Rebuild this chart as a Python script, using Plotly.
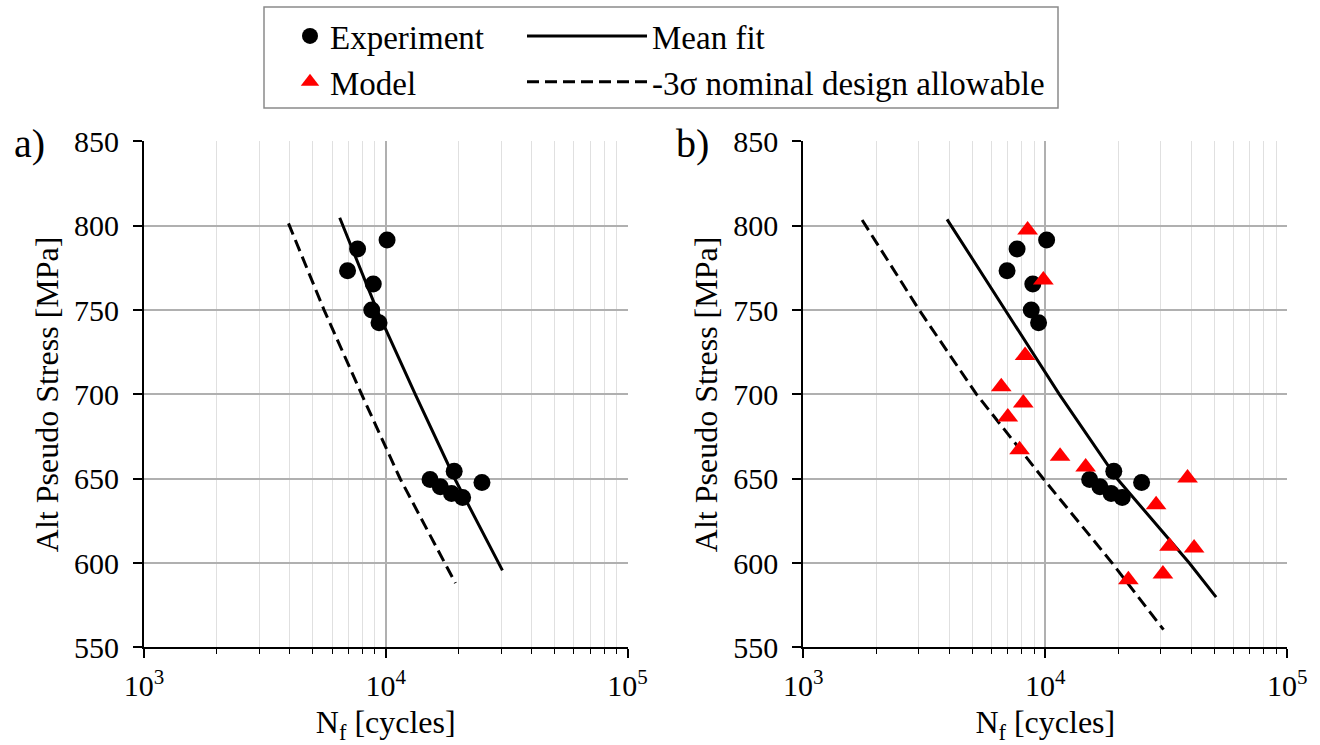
import plotly.graph_objects as go

# ---------------- data ----------------
exp_N = [7646, 10125, 6950, 8880, 8750, 9380, 15250, 19190, 16820, 18710, 20790, 25000]
exp_S = [786.2, 791.5, 773.3, 765.4, 750.0, 742.5, 649.6, 654.5, 645.2, 641.3, 638.9, 647.8]

model_N = [8450, 9816, 8250, 6576, 8110, 7000, 7830, 11510, 14680, 38700, 28700, 32600, 41200, 30620, 22040]
model_S = [797.4, 767.8, 723.0, 704.6, 694.9, 686.6, 667.2, 663.3, 657.0, 650.4, 634.6, 610.0, 608.9, 593.5, 590.1]

mean_a_N = [6450, 9200, 13250, 19300, 30380]
mean_a_S = [804.7, 750.0, 700.0, 650.0, 595.7]
allow_a_N = [3960, 5560, 7950, 11470, 19420]
allow_a_S = [801.4, 750.0, 700.0, 650.0, 588.1]

mean_b_N = [3927, 6845, 11430, 19820, 39360, 50800]
mean_b_S = [803.8, 750.0, 700.0, 650.0, 600.0, 579.8]
allow_b_N = [1750, 3013, 5200, 9810, 18900, 30790]
allow_b_S = [803.4, 750.0, 700.0, 650.0, 600.0, 560.5]

x_tickvals = [1e3, 1e4, 1e5]
x_ticktext = ["10<sup>3</sup>", "10<sup>4</sup>", "10<sup>5</sup>"]
x_minorvals = [2e3, 3e3, 4e3, 5e3, 6e3, 7e3, 8e3, 9e3, 2e4, 3e4, 4e4, 5e4, 6e4, 7e4, 8e4, 9e4]
y_tickvals = [550, 600, 650, 700, 750, 800, 850]

FONT = "Liberation Serif"
W, H = 1320, 745

fig = go.Figure()

def add_panel(xa, ya, with_model, mean_N, mean_S, allow_N, allow_S, show):
    fig.add_trace(go.Scatter(x=mean_N, y=mean_S, mode="lines", name="Mean fit",
                             line=dict(color="black", width=3), xaxis=xa, yaxis=ya,
                             legend="legend2", showlegend=show))
    fig.add_trace(go.Scatter(x=allow_N, y=allow_S, mode="lines",
                             name="-3σ nominal design allowable",
                             line=dict(color="black", width=3, dash="12px,6px"),
                             xaxis=xa, yaxis=ya, legend="legend2", showlegend=show))
    fig.add_trace(go.Scatter(x=exp_N, y=exp_S, mode="markers", name="Experiment",
                             marker=dict(symbol="circle", size=17, color="black"),
                             xaxis=xa, yaxis=ya, legend="legend", showlegend=show))
    if with_model:
        fig.add_trace(go.Scatter(x=model_N, y=model_S, mode="markers", name="Model",
                                 marker=dict(symbol="triangle-up", size=18, color="red"),
                                 xaxis=xa, yaxis=ya, legend="legend", showlegend=True))

add_panel("x", "y", False, mean_a_N, mean_a_S, allow_a_N, allow_a_S, True)
add_panel("x2", "y2", True, mean_b_N, mean_b_S, allow_b_N, allow_b_S, False)

xax = dict(type="log", range=[3, 5], tickvals=x_tickvals, ticktext=x_ticktext,
           showline=True, linecolor="black", linewidth=2, ticks="outside", ticklen=9,
           tickwidth=1.5, tickcolor="black", showgrid=True, gridcolor="#b0b0b0", gridwidth=1.5,
           minor=dict(tickvals=x_minorvals, ticks="outside", ticklen=5, tickcolor="black",
                      tickwidth=1, showgrid=True, gridcolor="#e0e0e0", gridwidth=1),
           tickfont=dict(family=FONT, size=30, color="black"), ticklabelstandoff=2,
           title=dict(text="N<sub>f</sub> [cycles]", font=dict(family=FONT, size=32, color="black"),
                      standoff=9),
           zeroline=False, automargin=False)
yax = dict(range=[550, 850], tickvals=y_tickvals, showline=True, linecolor="black", linewidth=2,
           ticks="outside", ticklen=9, tickwidth=1.5, tickcolor="black",
           showgrid=True, gridcolor="#b0b0b0", gridwidth=1.5,
           tickfont=dict(family=FONT, size=30, color="black"), ticklabelstandoff=8,
           title=dict(text="Alt Pseudo Stress [MPa]", font=dict(family=FONT, size=32, color="black"),
                      standoff=6),
           zeroline=False, automargin=False)

ydom = [(H - 647.4) / H, (H - 141.4) / H]
fig.update_layout(
    width=W, height=H, margin=dict(l=0, r=0, t=0, b=0, autoexpand=False),
    paper_bgcolor="white", plot_bgcolor="white",
    xaxis=dict(xax, domain=[144 / W, 627.5 / W], anchor="y"),
    yaxis=dict(yax, domain=ydom, anchor="x"),
    xaxis2=dict(xax, domain=[803.3 / W, 1287.3 / W], anchor="y2"),
    yaxis2=dict(yax, domain=ydom, anchor="x2"),
    legend=dict(x=290 / W, y=(H - 8) / H, xanchor="left", yanchor="top",
                font=dict(family=FONT, size=33, color="black"), bgcolor="rgba(0,0,0,0)",
                traceorder="normal", tracegroupgap=0),
    legend2=dict(x=522 / W, y=(H - 8) / H, xanchor="left", yanchor="top",
                 font=dict(family=FONT, size=33, color="black"), bgcolor="rgba(0,0,0,0)",
                 tracegroupgap=0, itemwidth=120),
    shapes=[dict(type="rect", xref="paper", yref="paper",
                 x0=264 / W, x1=1058 / W, y0=(H - 108) / H, y1=(H - 7) / H,
                 line=dict(color="#8a8a8a", width=1.5), fillcolor="rgba(0,0,0,0)")],
    annotations=[
        dict(text="a)", xref="paper", yref="paper", x=29 / W, y=(H - 143) / H,
             xanchor="center", yanchor="middle", showarrow=False,
             font=dict(family=FONT, size=40, color="black")),
        dict(text="b)", xref="paper", yref="paper", x=692 / W, y=(H - 143) / H,
             xanchor="center", yanchor="middle", showarrow=False,
             font=dict(family=FONT, size=40, color="black")),
    ],
)

fig.write_html("out.html", config={"displayModeBar": False},
               post_script="document.body.style.margin='0px';")
